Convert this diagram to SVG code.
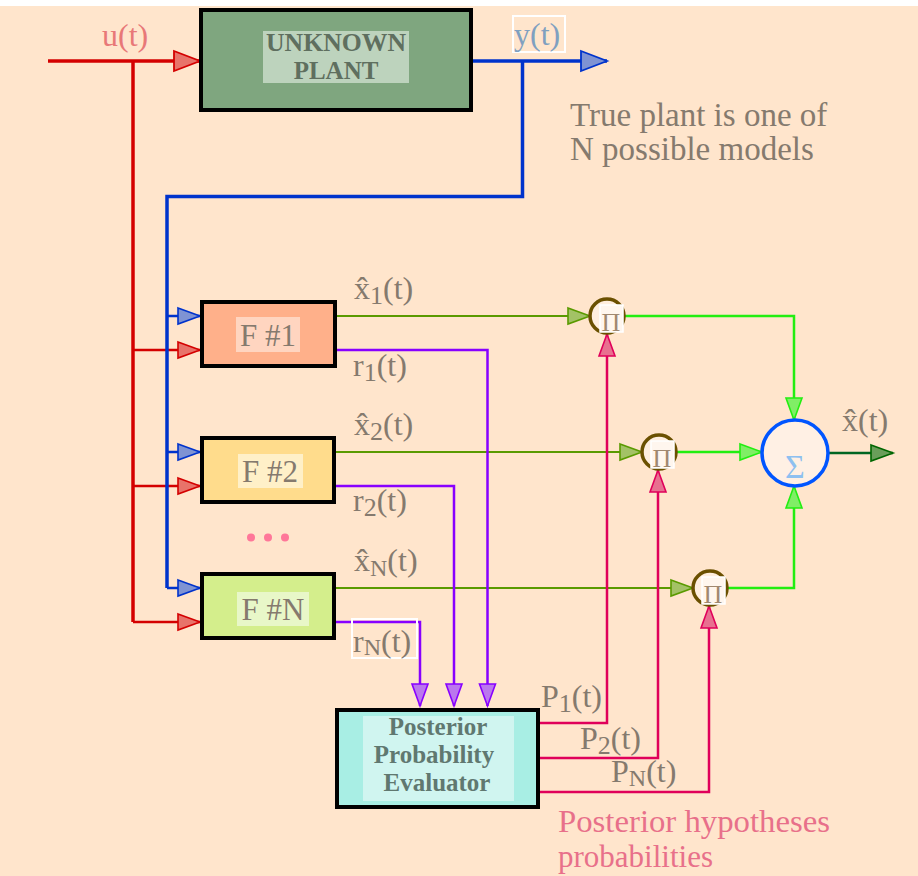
<svg xmlns="http://www.w3.org/2000/svg" width="918" height="876" viewBox="0 0 918 876">
<style>
text{font-family:"Liberation Serif","Times New Roman",serif}
.lbl{font-size:32px;fill:#857a6e}
.box{stroke:#000;stroke-width:4}
.bold{font-weight:bold;font-size:25px;text-anchor:middle}
.pi{font-size:26px;fill:#a08870;text-anchor:middle}
.pic{fill:#ffeede;stroke:#6b5000;stroke-width:3.5}
.pisq{fill:#fff6ee;stroke:#fff;stroke-width:1.5}
</style>
<defs>
<marker id="aRedL" markerUnits="userSpaceOnUse" markerWidth="30" markerHeight="24" refX="27" refY="11" orient="auto" overflow="visible"><path d="M1,1 L27,11 L1,21 Z" fill="#e8736a" stroke="#d40000" stroke-width="1.8"/></marker>
<marker id="aBlueL" markerUnits="userSpaceOnUse" markerWidth="30" markerHeight="24" refX="27" refY="11" orient="auto" overflow="visible"><path d="M1,1 L27,11 L1,21 Z" fill="#7f93d3" stroke="#0033cc" stroke-width="1.8"/></marker>
<marker id="aRed" markerUnits="userSpaceOnUse" markerWidth="26" markerHeight="20" refX="23" refY="9" orient="auto" overflow="visible"><path d="M1,1 L23,9 L1,17 Z" fill="#e8736a" stroke="#d40000" stroke-width="1.6"/></marker>
<marker id="aBlue" markerUnits="userSpaceOnUse" markerWidth="26" markerHeight="20" refX="23" refY="9" orient="auto" overflow="visible"><path d="M1,1 L23,9 L1,17 Z" fill="#7f93d3" stroke="#0033cc" stroke-width="1.6"/></marker>
<marker id="aOlive" markerUnits="userSpaceOnUse" markerWidth="26" markerHeight="20" refX="23" refY="9" orient="auto" overflow="visible"><path d="M1,1 L23,9 L1,17 Z" fill="#a3c266" stroke="#5a9a00" stroke-width="1.6"/></marker>
<marker id="aLime" markerUnits="userSpaceOnUse" markerWidth="26" markerHeight="20" refX="23" refY="9" orient="auto" overflow="visible"><path d="M1,1 L23,9 L1,17 Z" fill="#80ee66" stroke="#22ee11" stroke-width="1.6"/></marker>
<marker id="aDark" markerUnits="userSpaceOnUse" markerWidth="26" markerHeight="20" refX="23" refY="9" orient="auto" overflow="visible"><path d="M1,1 L23,9 L1,17 Z" fill="#6a9e5a" stroke="#006600" stroke-width="1.6"/></marker>
<marker id="aPurple" markerUnits="userSpaceOnUse" markerWidth="26" markerHeight="20" refX="23" refY="9" orient="auto" overflow="visible"><path d="M1,1 L23,9 L1,17 Z" fill="#bb77ee" stroke="#8800ff" stroke-width="1.6"/></marker>
<marker id="aCrim" markerUnits="userSpaceOnUse" markerWidth="26" markerHeight="20" refX="23" refY="9" orient="auto" overflow="visible"><path d="M1,1 L23,9 L1,17 Z" fill="#e87090" stroke="#e0005a" stroke-width="1.6"/></marker>
</defs>
<rect x="0" y="0" width="918" height="876" fill="#ffffff"/>
<rect x="0" y="6" width="918" height="870" fill="#ffe5cc"/>

<g id="connectors" fill="none">
  <path d="M48,61 H200" stroke="#d40000" stroke-width="3.5" marker-end="url(#aRedL)"/>
  <path d="M133,61 V622" stroke="#d40000" stroke-width="3.5"/>
  <path d="M133,350 H200" stroke="#d40000" stroke-width="2.5" marker-end="url(#aRed)"/>
  <path d="M133,486 H200" stroke="#d40000" stroke-width="2.5" marker-end="url(#aRed)"/>
  <path d="M133,622 H200" stroke="#d40000" stroke-width="2.5" marker-end="url(#aRed)"/>
  <path d="M472,61 H607" stroke="#0033cc" stroke-width="3.5" marker-end="url(#aBlueL)"/>
  <path d="M522.5,61 V196.5 H167 V588" stroke="#0033cc" stroke-width="3.5"/>
  <path d="M167,316 H200" stroke="#0033cc" stroke-width="2.5" marker-end="url(#aBlue)"/>
  <path d="M167,452 H200" stroke="#0033cc" stroke-width="2.5" marker-end="url(#aBlue)"/>
  <path d="M167,588 H200" stroke="#0033cc" stroke-width="2.5" marker-end="url(#aBlue)"/>
  <path d="M336,316 H590" stroke="#5a9a00" stroke-width="2.2" marker-end="url(#aOlive)"/>
  <path d="M336,452 H642" stroke="#5a9a00" stroke-width="2.2" marker-end="url(#aOlive)"/>
  <path d="M336,588 H693" stroke="#5a9a00" stroke-width="2.2" marker-end="url(#aOlive)"/>
  <path d="M624,316 H794 V420" stroke="#22ee11" stroke-width="2.5" marker-end="url(#aLime)"/>
  <path d="M676,452 H762" stroke="#22ee11" stroke-width="2.5" marker-end="url(#aLime)"/>
  <path d="M727,588 H794 V486" stroke="#22ee11" stroke-width="2.5" marker-end="url(#aLime)"/>
  <path d="M828,453 H893" stroke="#006622" stroke-width="2.5" marker-end="url(#aDark)"/>
  <path d="M336,350 H487.5 V706" stroke="#8800ff" stroke-width="2.5" marker-end="url(#aPurple)"/>
  <path d="M336,486 H454 V706" stroke="#8800ff" stroke-width="2.5" marker-end="url(#aPurple)"/>
  <path d="M336,622 H420 V706" stroke="#8800ff" stroke-width="2.5" marker-end="url(#aPurple)"/>
  <path d="M539,723 H607 V334" stroke="#e0005a" stroke-width="2.5" marker-end="url(#aCrim)"/>
  <path d="M539,758 H658 V470" stroke="#e0005a" stroke-width="2.5" marker-end="url(#aCrim)"/>
  <path d="M539,792 H709 V606" stroke="#e0005a" stroke-width="2.5" marker-end="url(#aCrim)"/>
</g>

<g id="plant">
  <rect class="box" x="201" y="10" width="270" height="100" fill="#7fa67f"/>
  <rect x="263" y="31" width="146" height="52" fill="#bdd3bd"/>
  <text class="bold" x="336" y="51" fill="#5f6f5f" textLength="140" lengthAdjust="spacingAndGlyphs">UNKNOWN</text>
  <text class="bold" x="336" y="79" fill="#5f6f5f">PLANT</text>
</g>

<g id="f1">
  <rect class="box" x="202" y="302" width="133" height="64" fill="#ffb08a"/>
  <rect x="236" y="317" width="64" height="35" fill="#ffd5c0"/>
  <text class="lbl" x="268" y="346" text-anchor="middle" style="font-size:31px">F #1</text>
</g>
<g id="f2">
  <rect class="box" x="202" y="438" width="132" height="64" fill="#ffdc8c"/>
  <rect x="238" y="454" width="65" height="34" fill="#fff0c8"/>
  <text class="lbl" x="270" y="482" text-anchor="middle" style="font-size:31px">F #2</text>
</g>
<g id="fN">
  <rect class="box" x="202" y="574" width="132" height="64" fill="#d4ee8c"/>
  <rect x="237" y="592" width="72" height="34" fill="#e8f7c8"/>
  <text class="lbl" x="273" y="620" text-anchor="middle" style="font-size:31px">F #N</text>
</g>

<g id="evaluator">
  <rect class="box" x="337" y="710" width="201" height="97" fill="#a8eee4"/>
  <rect x="363" y="716" width="151" height="85" fill="#d0f5f0"/>
  <text class="bold" x="438" y="735" fill="#607870">Posterior</text>
  <text class="bold" x="434" y="763" fill="#607870">Probability</text>
  <text class="bold" x="437" y="791" fill="#607870">Evaluator</text>
</g>

<g id="pi1">
  <circle class="pic" cx="607" cy="316" r="17"/>
  <rect class="pisq" x="600" y="305" width="23" height="27"/>
  <text class="pi" x="611" y="331">Π</text>
</g>
<g id="pi2">
  <circle class="pic" cx="659" cy="452" r="17"/>
  <rect class="pisq" x="651" y="441" width="23" height="27"/>
  <text class="pi" x="662" y="467">Π</text>
</g>
<g id="pi3">
  <circle class="pic" cx="710" cy="588" r="17"/>
  <rect class="pisq" x="702" y="577" width="23" height="27"/>
  <text class="pi" x="713" y="603">Π</text>
</g>

<g id="sigma">
  <circle cx="795" cy="453" r="33" fill="#fff0e4" stroke="#0055ff" stroke-width="3.5"/>
  <text x="795" y="478" text-anchor="middle" style="font-size:34px;fill:#8ec0f0">Σ</text>
</g>

<g id="labels">
  <text x="102" y="46" style="font-size:32px;fill:#e87878">u(t)</text>
  <rect x="513" y="16" width="52" height="36" fill="none" stroke="#ffffff" stroke-width="2"/>
  <text x="514" y="45" style="font-size:32px;fill:#7fa0c0">y(t)</text>

  <text class="lbl" x="570" y="126" style="font-size:33px">True plant is one of</text>
  <text class="lbl" x="570" y="160" style="font-size:33px">N possible models</text>

  <text class="lbl" x="354" y="299">x̂<tspan font-size="26" dy="5">1</tspan><tspan dy="-5">(t)</tspan></text>
  <text class="lbl" x="353" y="376">r<tspan font-size="26" dy="5">1</tspan><tspan dy="-5">(t)</tspan></text>

  <text class="lbl" x="354" y="435">x̂<tspan font-size="26" dy="5">2</tspan><tspan dy="-5">(t)</tspan></text>
  <text class="lbl" x="353" y="511">r<tspan font-size="26" dy="5">2</tspan><tspan dy="-5">(t)</tspan></text>

  <text class="lbl" x="354" y="571">x̂<tspan font-size="24" dy="5">N</tspan><tspan dy="-5">(t)</tspan></text>
  <rect x="352" y="619" width="65" height="39" fill="none" stroke="#ffffff" stroke-width="2"/>
  <text class="lbl" x="353" y="652">r<tspan font-size="24" dy="3">N</tspan><tspan dy="-3">(t)</tspan></text>

  <text class="lbl" x="842" y="431">x̂(t)</text>

  <text class="lbl" x="541" y="707">P<tspan font-size="26" dy="5">1</tspan><tspan dy="-5">(t)</tspan></text>
  <text class="lbl" x="580" y="749">P<tspan font-size="26" dy="5">2</tspan><tspan dy="-5">(t)</tspan></text>
  <text class="lbl" x="611" y="782">P<tspan font-size="24" dy="4">N</tspan><tspan dy="-4">(t)</tspan></text>

  <text x="558" y="832" style="font-size:31px;fill:#e8708a" textLength="272" lengthAdjust="spacingAndGlyphs">Posterior hypotheses</text>
  <text x="558" y="867" style="font-size:31px;fill:#e8708a">probabilities</text>

  <circle cx="251" cy="537.5" r="4" fill="#ff7799"/>
  <circle cx="268" cy="537.5" r="4" fill="#ff7799"/>
  <circle cx="285" cy="537.5" r="4" fill="#ff7799"/>
</g>
</svg>
